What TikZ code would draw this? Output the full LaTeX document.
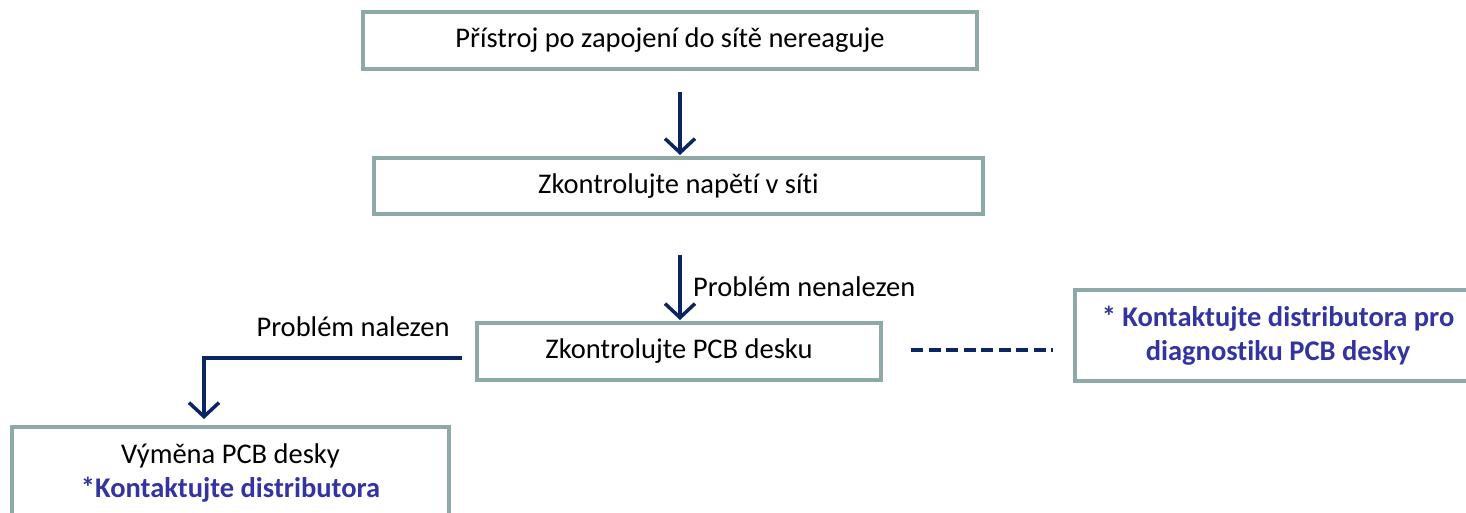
\documentclass[tikz,border=0pt]{standalone}
\usepackage{fontspec}
\setmainfont{Carlito}[Ligatures=NoCommon]
\usetikzlibrary{arrows.meta,calc}
\definecolor{boxline}{HTML}{8FA8A8}
\definecolor{navy}{HTML}{0B2463}
\definecolor{bluetxt}{HTML}{3434A0}
\begin{document}
\begin{tikzpicture}[x=1pt,y=-1pt,
  box/.style={draw=boxline,line width=4pt,fill=white,inner sep=0pt,align=center,font=\fontsize{28.5}{34}\selectfont},
  arr/.style={draw=navy,line width=3.5pt,-{Straight Barb[length=14pt,width=30pt,line width=3.5pt]}},
  lbl/.style={font=\fontsize{28.5}{34}\selectfont,inner sep=0pt}]
\useasboundingbox (0,0) rectangle (1466,513);
\clip (0,0) rectangle (1466,513);
\node[box,minimum width=614pt,minimum height=57pt] (b1) at (670,40.5) {Přístroj po zapojení do sítě nereaguje};
\node[box,minimum width=609pt,minimum height=56pt] (b2) at (678.5,186) {Zkontrolujte napětí v síti};
\node[box,minimum width=404pt,minimum height=57pt] (b3) at (679,351.5) {Zkontrolujte PCB desku};
\node[box,minimum width=406pt,minimum height=91pt,text=bluetxt] (b4) at (1278,335.5) {\bfseries * Kontaktujte distributora pro\\\bfseries diagnostiku PCB desky};
\node[box,minimum width=437pt,minimum height=92pt] (b5) at (230.5,473) {Výměna PCB desky\\\textcolor{bluetxt}{\bfseries *Kontaktujte distributora}};
\coordinate (a1) at (680,92);
\coordinate (a2) at (680,255);
\coordinate (a3) at (462,358);
\coordinate (a3c) at (204,358);
\coordinate (d1) at (911,350);
\coordinate (d2) at (1053,350);
\draw[arr] (a1) -- ($(b2.north -| a1)+(0,-1)$);
\draw[arr] (a2) -- ($(b3.north -| a2)+(0,-1)$);
\draw[arr] (a3) -- (a3c) -- ($(b5.north -| a3c)+(0,-6)$);
\draw[navy,line width=3.5pt,dash pattern=on 12pt off 5.5pt] (d1) -- (d2);
\node[lbl,anchor=west] (l1) at (693,287) {Problém nenalezen};
\node[lbl] (l2) at (353,327) {Problém nalezen};
\end{tikzpicture}
\end{document}
